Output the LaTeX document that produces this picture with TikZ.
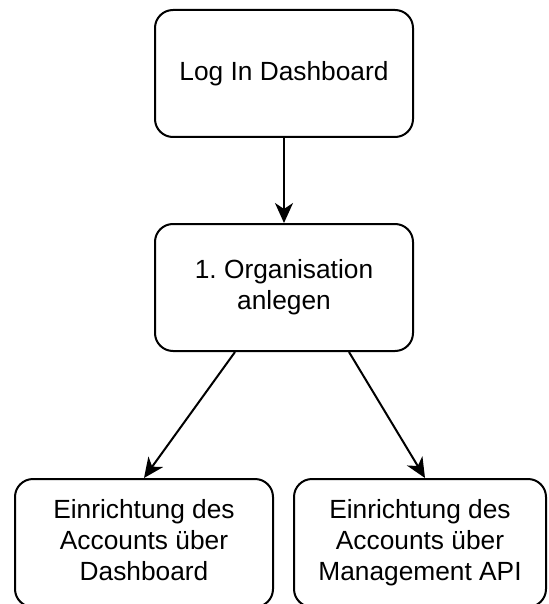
\documentclass[tikz,border=0pt]{standalone}
\usepackage{fontspec}
\setmainfont{Liberation Sans}
\usetikzlibrary{arrows.meta}
\frenchspacing
\begin{document}
\begin{tikzpicture}[x=1pt,y=1pt,
  box/.style={draw, line width=2pt, rounded corners=18pt, align=center,
    font=\fontsize{26.3}{31}\selectfont, inner sep=0pt},
  conn/.style={line width=2pt, -{Stealth[length=20pt,width=18pt,inset=6pt]}}]
\useasboundingbox (0,0) rectangle (548,-604);
\node[box, minimum width=258pt, minimum height=127pt] (login) at (284,-73.5) {Log In Dashboard};
\node[box, minimum width=258pt, minimum height=127pt] (org) at (284,-287.5) {1.\ Organisation\\anlegen};
\node[box, minimum width=258pt, minimum height=128pt] (dash) at (144,-543) {Einrichtung des\\Accounts über\\Dashboard\vphantom{g}};
\node[box, minimum width=252pt, minimum height=128pt] (api) at (420,-543) {Einrichtung des\\Accounts über\\Management API};
\coordinate (orgL) at ([xshift=-49pt]org.south);
\coordinate (orgR) at ([xshift=65pt]org.south);
\coordinate (apiT) at ([xshift=5pt]api.north);
\draw[conn] (login.south) -- (org.north);
\draw[conn] (orgL) -- (dash.north);
\draw[conn] (orgR) -- (apiT);
\end{tikzpicture}
\end{document}
